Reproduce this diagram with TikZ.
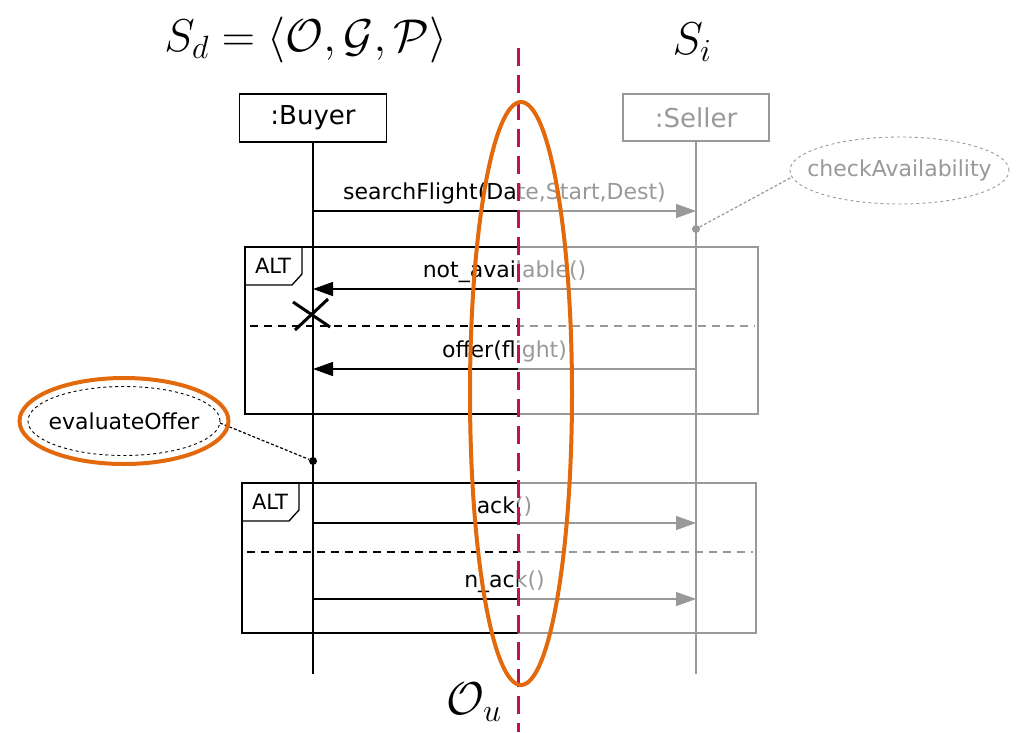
\RequirePackage{fix-cm}
\documentclass[tikz,border=0pt]{standalone}
\usepackage{amsmath}
\usepackage{fontspec}
\usepackage{tikz}
\usetikzlibrary{arrows.meta, positioning, shapes.geometric}
\newfontfamily\umlfont{DejaVu Sans}
\definecolor{cutRed}{RGB}{196,18,72}
\definecolor{ouOrange}{RGB}{226,106,12}

\begin{document}
\begin{tikzpicture}[x=1pt, y=-1pt,
  every node/.style={font=\umlfont\fontsize{22}{26}\selectfont},
  head/.style={draw, line width=1.5pt, minimum width=147pt, minimum height=48pt, inner sep=0pt, font=\umlfont\fontsize{26}{30}\selectfont},
  life/.style={line width=1.5pt},
  msg/.style={line width=1.5pt, -{Triangle[length=20pt,width=14pt]}},
  lbl/.style={above=4pt, inner sep=2pt},
  frame/.style={line width=1.3pt},
  sep/.style={line width=1.3pt, dash pattern=on 8pt off 6pt},
  note/.style={dashed, line width=0.9pt},
  link/.style={line width=1.2pt, dash pattern=on 3pt off 2pt},
  dot/.style={circle, fill, inner sep=0pt, minimum size=8pt},
  ring/.style={ouOrange, line width=4pt},
  formula/.style={font=\fontsize{46}{50}\selectfont}]
  \useasboundingbox (0,0) rectangle (1018,732);
  \node[head] (buyer) at (313,118) {:Buyer};
  \node[head, minimum width=146pt, minimum height=47pt] (seller) at (696,117.5) {:Seller};
  \coordinate (bEnd) at (313,674);
  \coordinate (sEnd) at (696,674);
  \draw[life] (buyer) -- (bEnd);
  \draw[life] (seller) -- (sEnd);
  \foreach \n/\x/\y/\r/\b/\s in {1/245/247/758/414/326, 2/242/483/756/633/552} {
    \draw[frame] (\x,\y) rectangle (\r,\b);
    \draw[frame] (\x,\y+38) -- (\x+47,\y+38) -- (\x+57,\y+27) -- (\x+57,\y);
    \node[font=\umlfont\fontsize{21}{24}\selectfont] (alt\n) at (\x+28,\y+19) {ALT};
    \draw[sep] (\x+5,\s) -- (\r-3,\s);
  }
  \foreach \n/\y/\from/\to/\txt in {
    1/211/b/s/searchFlight(Date{,}Start{,}Dest),
    2/289/s/b/not\_available(),
    3/369/s/b/offer(flight),
    4/523/b/s/ack(),
    5/599/b/s/n\_ack()
  } {
    \coordinate (b\n) at (313,\y);
    \coordinate (s\n) at (696,\y);
    \draw[msg] (\from\n) -- (\to\n) node[midway, lbl] (m\n) {\txt};
  }
  \draw[line width=3pt] (293,302) -- (330,327);
  \draw[line width=3pt] (295,330) -- (328,299);
  \node[dot] (d1) at (696,229) {};
  \node[dot] (d2) at (313,461) {};
  \node (check) at (899.5,170.5) {checkAvailability};
  \draw[note] (check.center) ellipse [x radius=109.5pt, y radius=33.5pt];
  \node (eval) at (124,421) {evaluateOffer};
  \draw[note] (eval.center) ellipse [x radius=96pt, y radius=34.5pt];
  \coordinate (checkIn) at (792,177);
  \coordinate (evalOut) at (220,423);
  \draw[link] (d1) -- (checkIn);
  \draw[link] (evalOut) -- (d2);
  \fill[white, opacity=0.6] (518,0) rectangle (1018,732);
  \draw[cutRed, line width=3pt, dash pattern=on 18pt off 9pt] (518,48) -- (518,732);
  \draw[ring] (521,393.5) ellipse [x radius=51pt, y radius=291.5pt];
  \draw[ring] (eval.center) ellipse [x radius=104.5pt, y radius=43pt];
  \node[formula] (sd) at (306,40) {$S_d = \langle\mathcal{O},\mathcal{G},\mathcal{P}\rangle$};
  \node[formula] (si) at (692,42) {$S_i$};
  \node[formula] (ou) at (474,702) {$\mathcal{O}_u$};
\end{tikzpicture}
\end{document}
